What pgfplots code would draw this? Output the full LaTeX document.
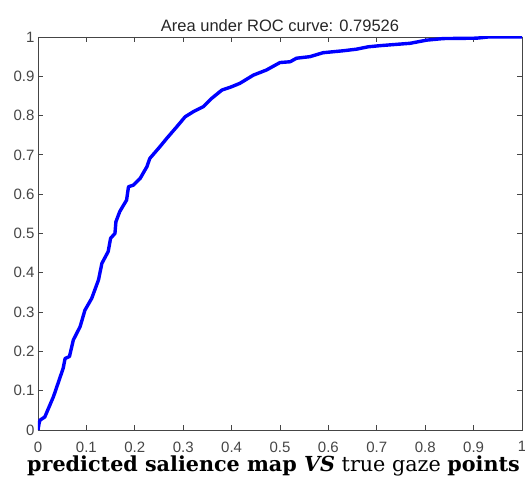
\documentclass[border=0pt]{standalone}
\usepackage{pgfplots}
\pgfplotsset{compat=1.18}
\usepackage{fontspec}
\setmainfont{Liberation Sans}
\newfontfamily\capfont{DejaVu Serif}
\definecolor{axgray}{rgb}{0.27,0.27,0.27}
\definecolor{mblue}{rgb}{0,0,1}
\begin{document}
\begin{tikzpicture}
\useasboundingbox (-38pt,-60pt) rectangle (487pt,430pt);
\begin{axis}[
  at={(0pt,0pt)}, anchor=south west,
  scale only axis, width=484pt, height=393pt,
  xmin=0, xmax=1, ymin=0, ymax=1,
  xtick={0,0.1,...,1}, ytick={0,0.1,...,1},
  xticklabels={0,0.1,0.2,0.3,0.4,0.5,0.6,0.7,0.8,0.9,1},
  yticklabels={0,0.1,0.2,0.3,0.4,0.5,0.6,0.7,0.8,0.9,1},
  tick align=inside, major tick length=5pt,
  axis line style={axgray, line width=0.8pt},
  every tick/.style={axgray, line width=0.8pt},
  tick label style={font=\fontsize{15}{17}\selectfont, text=axgray},
  /pgf/number format/assume math mode=true,
  xticklabel style={yshift=-8pt},
  yticklabel style={xshift=0pt},
  title={Area under ROC curve: 0.79526},
  title style={font=\fontsize{16.5}{19}\selectfont, text=black!85, yshift=-4pt},
]
\addplot[mblue, line width=3.4pt, line join=round] coordinates {
(0,0) (0.002,0.015) (0.004,0.025) (0.014,0.033) (0.032,0.085) (0.052,0.157)
(0.056,0.182) (0.065,0.187) (0.073,0.229) (0.087,0.263) (0.097,0.305)
(0.111,0.335) (0.125,0.382) (0.132,0.424) (0.145,0.454) (0.150,0.488)
(0.159,0.500) (0.161,0.530) (0.169,0.556) (0.183,0.585) (0.187,0.619)
(0.197,0.623) (0.211,0.640) (0.225,0.670) (0.231,0.691) (0.252,0.721)
(0.266,0.742) (0.287,0.772) (0.304,0.797) (0.321,0.810) (0.342,0.823)
(0.359,0.844) (0.380,0.865) (0.397,0.872) (0.417,0.882) (0.445,0.903)
(0.472,0.916) (0.500,0.935) (0.521,0.937) (0.534,0.946) (0.562,0.950)
(0.589,0.960) (0.631,0.965) (0.658,0.969) (0.682,0.975) (0.707,0.978)
(0.769,0.984) (0.803,0.992) (0.837,0.996) (0.906,0.997) (0.93,1) (1,1)
};
\end{axis}
\node[anchor=base, inner sep=0pt] at (235.5pt,-41pt) {\capfont\fontsize{20.7}{24}\selectfont\textbf{predicted salience map \textit{VS}} true gaze \textbf{points}};
\end{tikzpicture}
\end{document}
